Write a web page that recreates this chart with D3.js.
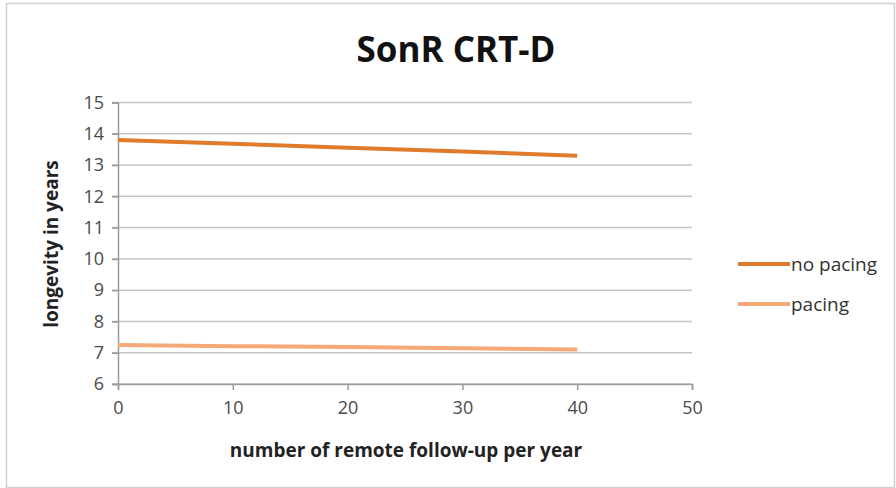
<!DOCTYPE html>
<html>
<head>
<meta charset="utf-8">
<script src="https://cdn.jsdelivr.net/npm/d3@7"></script>
<style>
  body { margin: 0; background: #fff; }
  text { font-family: "Open Sans", "Noto Sans", sans-serif; }
</style>
</head>
<body>
<svg id="chart" width="896" height="488"></svg>
<script>
const followUps = [0, 10, 20, 30, 40];
const noPacing = [13.8, 13.68, 13.55, 13.43, 13.3];
const pacing = [7.25, 7.21, 7.18, 7.14, 7.1];
const seriesNames = ["no pacing", "pacing"];
const seriesColors = ["#e07b2c", "#f5a878"];
const xTicks = [0, 10, 20, 30, 40, 50];
const yTicks = [6, 7, 8, 9, 10, 11, 12, 13, 14, 15];

const svg = d3.select("#chart");

// chart frame
svg.append("rect")
    .attr("x", 6.5).attr("y", 3.5)
    .attr("width", 888).attr("height", 484)
    .style("fill", "#fff")
    .style("stroke", "#d0d0d0")
    .style("stroke-width", 1.5);

const x = d3.scaleLinear().domain([0, 50]).range([118, 692]);
const y = d3.scaleLinear().domain([6, 15]).range([384, 102.5]);

// gridlines
svg.append("g")
    .selectAll("line")
    .data(yTicks)
    .enter().append("line")
    .attr("x1", 112).attr("x2", 692)
    .attr("y1", d => y(d)).attr("y2", d => y(d))
    .style("stroke", "#c4c4c4")
    .style("stroke-width", 1.5);

// y axis
const yAxis = svg.append("g")
    .attr("transform", "translate(118,0)")
    .call(d3.axisLeft(y).tickValues(yTicks).tickSize(6).tickPadding(8));
yAxis.select(".domain").style("stroke", "#9a9a9a").style("stroke-width", 1.5);
yAxis.selectAll(".tick line").style("stroke", "#9a9a9a").style("stroke-width", 1.5);
yAxis.selectAll("text")
    .style("font-size", "18px").style("fill", "#4a4a4a")
    .style("font-family", "Open Sans");

// x axis
const xAxis = svg.append("g")
    .attr("transform", "translate(0,384)")
    .call(d3.axisBottom(x).tickValues(xTicks).tickSize(6).tickPadding(11));
xAxis.select(".domain").style("stroke", "#9a9a9a").style("stroke-width", 1.5);
xAxis.selectAll(".tick line").style("stroke", "#9a9a9a").style("stroke-width", 1.5);
xAxis.selectAll("text")
    .style("font-size", "18px").style("fill", "#4a4a4a")
    .style("font-family", "Open Sans");

// series lines
const line = d3.line()
    .x((d, i) => x(followUps[i]))
    .y(d => y(d));

svg.append("g")
    .selectAll("path")
    .data([noPacing, pacing])
    .enter().append("path")
    .attr("d", d => line(d))
    .style("fill", "none")
    .style("stroke", (d, i) => seriesColors[i])
    .style("stroke-width", 4)
    .style("stroke-linecap", "butt");

// title
svg.append("text")
    .attr("x", 456).attr("y", 62)
    .attr("text-anchor", "middle")
    .style("font-size", "35px")
    .style("font-weight", "bold")
    .style("fill", "#111")
    .text("SonR CRT-D");

// axis titles
svg.append("text")
    .attr("x", 406).attr("y", 457)
    .attr("text-anchor", "middle")
    .style("font-size", "19px")
    .style("font-weight", "bold")
    .style("fill", "#222")
    .text("number of remote follow-up per year");

svg.append("text")
    .attr("transform", "translate(58,244) rotate(-90)")
    .attr("text-anchor", "middle")
    .style("font-size", "19px")
    .style("font-weight", "bold")
    .style("fill", "#222")
    .text("longevity in years");

// legend
const legend = svg.append("g")
    .selectAll("g")
    .data(seriesNames)
    .enter().append("g")
    .attr("transform", (d, i) => `translate(738,${264 + i * 40})`);

legend.append("line")
    .attr("x1", 0).attr("x2", 52)
    .style("stroke", (d, i) => seriesColors[i])
    .style("stroke-width", 4);

legend.append("text")
    .attr("x", 53).attr("y", 7)
    .style("font-size", "19px")
    .style("fill", "#333")
    .text(d => d);
</script>
</body>
</html>
